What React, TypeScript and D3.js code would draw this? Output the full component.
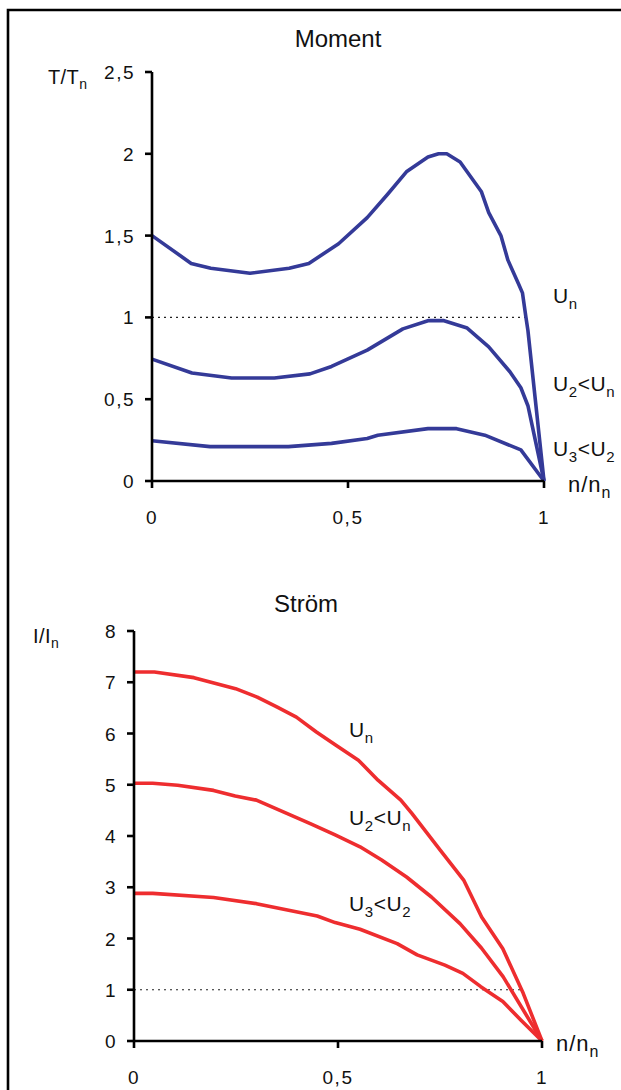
import React from "react";
import * as d3 from "d3";

// ---- Data ----
const momentUn: [number, number][] = [
  [0, 1.5], [0.1, 1.33], [0.15, 1.3], [0.25, 1.27], [0.35, 1.3], [0.4, 1.33], [0.476, 1.45],
  [0.549, 1.61], [0.6, 1.75], [0.649, 1.89], [0.704, 1.98], [0.731, 2.0], [0.752, 2.0],
  [0.786, 1.95], [0.84, 1.77], [0.859, 1.64], [0.89, 1.5], [0.908, 1.35], [0.936, 1.2],
  [0.945, 1.15], [0.954, 1.0], [0.959, 0.92], [1.0, 0],
];
const momentU2: [number, number][] = [
  [0, 0.745], [0.102, 0.66], [0.203, 0.63], [0.312, 0.63], [0.403, 0.655], [0.458, 0.7],
  [0.549, 0.8], [0.64, 0.93], [0.704, 0.98], [0.745, 0.98], [0.804, 0.935], [0.859, 0.82],
  [0.913, 0.668], [0.941, 0.57], [0.959, 0.46], [1.0, 0],
];
const momentU3: [number, number][] = [
  [0, 0.246], [0.148, 0.21], [0.348, 0.21], [0.458, 0.23], [0.549, 0.26], [0.576, 0.28],
  [0.704, 0.32], [0.777, 0.32], [0.849, 0.28], [0.941, 0.19], [1.0, 0],
];
const currentUn: [number, number][] = [
  [0, 7.2], [0.05, 7.2], [0.147, 7.09], [0.249, 6.875], [0.302, 6.71], [0.35, 6.52],
  [0.398, 6.32], [0.447, 6.03], [0.495, 5.77], [0.55, 5.48], [0.598, 5.09], [0.654, 4.7],
  [0.681, 4.44], [0.751, 3.72], [0.808, 3.14], [0.852, 2.42], [0.904, 1.8], [0.954, 0.93], [1.0, 0],
];
const currentU2: [number, number][] = [
  [0, 5.03], [0.046, 5.03], [0.107, 4.99], [0.195, 4.89], [0.248, 4.78], [0.3, 4.7],
  [0.432, 4.24], [0.493, 4.02], [0.554, 3.79], [0.607, 3.53], [0.668, 3.2], [0.729, 2.81],
  [0.799, 2.29], [0.852, 1.81], [0.905, 1.25], [1.0, 0],
];
const currentU3: [number, number][] = [
  [0, 2.88], [0.046, 2.88], [0.195, 2.8], [0.3, 2.68], [0.449, 2.44], [0.493, 2.31],
  [0.554, 2.18], [0.645, 1.9], [0.694, 1.68], [0.762, 1.48], [0.806, 1.32], [0.85, 1.06],
  [0.904, 0.77], [0.948, 0.41], [1.0, 0],
];
const momentYTicks = [0, 0.5, 1, 1.5, 2, 2.5];
const currentYTicks = [0, 1, 2, 3, 4, 5, 6, 7, 8];
const xTicks = [0, 0.5, 1];
const fmt = (v: number) => String(v).replace(".", ",");

const FONT = "'Liberation Sans', Arial, sans-serif";
const BLUE = "#343a98";
const RED = "#ee2d2f";

type Lbl = { main: string; sub: string; rest?: string; sub2?: string };

function Sub({ x, y, l, fs = 21, ls = 0.6 }: { x: number; y: number; l: Lbl; fs?: number; ls?: number }) {
  const ss = Math.round(fs * 0.72);
  const dy = Math.round(fs * 0.27);
  return (
    <text x={x} y={y} fontSize={fs} fill="#111" letterSpacing={ls}>
      {l.main}
      <tspan fontSize={ss} dy={dy}>{l.sub}</tspan>
      {l.rest !== undefined && <tspan fontSize={fs} dy={-dy}>{l.rest}</tspan>}
      {l.sub2 !== undefined && <tspan fontSize={ss} dy={dy}>{l.sub2}</tspan>}
    </text>
  );
}

function Panel(props: {
  x0: number; x1: number; y0: number; y1: number; ymax: number; yTicks: number[];
  series: [number, number][][]; color: string; dottedTo: number;
}) {
  const { x0, x1, y0, y1, ymax, yTicks, series, color, dottedTo } = props;
  const x = d3.scaleLinear().domain([0, 1]).range([x0, x1]);
  const y = d3.scaleLinear().domain([0, ymax]).range([y0, y1]);
  const line = d3.line<[number, number]>().x(d => x(d[0])).y(d => y(d[1]));
  return (
    <g>
      <line x1={x(0)} x2={x(dottedTo)} y1={y(1)} y2={y(1)} stroke="#222" strokeWidth={1.2} strokeDasharray="2,4" />
      {series.map((s, i) => (
        <path key={i} d={line(s) || ""} fill="none" stroke={color} strokeWidth={3.6} strokeLinejoin="round" />
      ))}
      <line x1={x0} x2={x0} y1={y(0)} y2={y(ymax)} stroke="#000" strokeWidth={2.6} />
      <line x1={x0} x2={x1} y1={y(0)} y2={y(0)} stroke="#000" strokeWidth={2.6} />
      {yTicks.map(t => (
        <g key={t}>
          <line x1={x0 - 7} x2={x0} y1={y(t)} y2={y(t)} stroke="#000" strokeWidth={2.6} />
          <text x={x0 - 17} y={y(t) + 7} fontSize={19} textAnchor="end" fill="#111" letterSpacing={1.5}>{fmt(t)}</text>
        </g>
      ))}
      {xTicks.map(t => (
        <g key={t}>
          <line x1={x(t)} x2={x(t)} y1={y(0)} y2={y(0) + 7} stroke="#000" strokeWidth={2.6} />
          <text x={x(t)} y={y(0) + 43} fontSize={19} textAnchor="middle" fill="#111" letterSpacing={1.5}>{fmt(t)}</text>
        </g>
      ))}
    </g>
  );
}

export default function App() {
  return (
    <svg width={621} height={1090} style={{ position: "absolute", left: 0, top: 0, background: "#fff" }} fontFamily={FONT}>
      <rect x={0} y={0} width={621} height={1090} fill="#fff" />
      <path d="M8,1100 V10 H630" fill="none" stroke="#000" strokeWidth={2.6} />

      {/* Moment */}
      <text x={338} y={47} fontSize={24} textAnchor="middle" fill="#111">Moment</text>
      <Sub x={48} y={84} fs={20} ls={0.4} l={{ main: "T/T", sub: "n" }} />
      <Panel x0={152} x1={544} y0={481} y1={72} ymax={2.5} yTicks={momentYTicks}
        series={[momentUn, momentU2, momentU3]} color={BLUE} dottedTo={0.953} />
      <Sub x={553} y={303} l={{ main: "U", sub: "n" }} />
      <Sub x={553} y={391} l={{ main: "U", sub: "2", rest: "<U", sub2: "n" }} />
      <Sub x={553} y={456} l={{ main: "U", sub: "3", rest: "<U", sub2: "2" }} />
      <Sub x={568} y={492} fs={22} ls={1} l={{ main: "n/n", sub: "n" }} />

      {/* Ström */}
      <text x={306} y={612} fontSize={24} textAnchor="middle" fill="#111">Ström</text>
      <Sub x={33} y={643} fs={20} ls={0.4} l={{ main: "I/I", sub: "n" }} />
      <Panel x0={134} x1={542} y0={1041} y1={631} ymax={8} yTicks={currentYTicks}
        series={[currentUn, currentU2, currentU3]} color={RED} dottedTo={0.953} />
      <Sub x={349} y={737} l={{ main: "U", sub: "n" }} />
      <Sub x={349} y={825} l={{ main: "U", sub: "2", rest: "<U", sub2: "n" }} />
      <Sub x={349} y={911} l={{ main: "U", sub: "3", rest: "<U", sub2: "2" }} />
      <Sub x={556} y={1051} fs={22} ls={1} l={{ main: "n/n", sub: "n" }} />
    </svg>
  );
}
